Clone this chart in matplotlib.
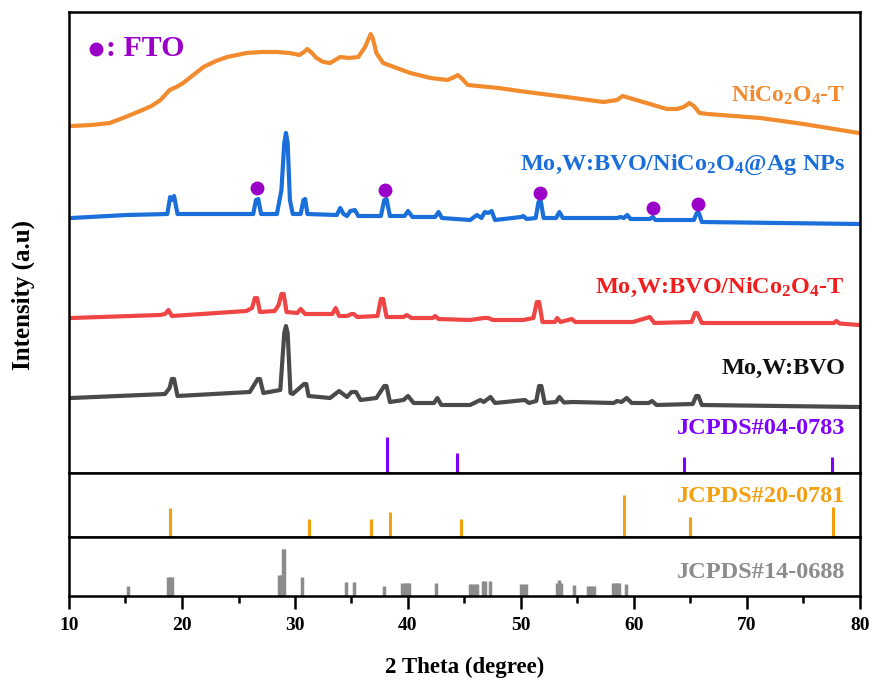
import numpy as np
import matplotlib
matplotlib.use('Agg')
import matplotlib.pyplot as plt

plt.rcParams['font.family'] = 'Liberation Serif'
plt.rcParams['font.weight'] = 'bold'

#--------------------------Data---------------------------------------------------

# NiCo2O4-T
x_nco = [10.2, 12.0, 13.6, 15.0, 16.5, 17.3, 18.1, 18.9, 19.5, 20.1, 21.9, 23.0, 24.0, 25.7, 27.0,
         28.4, 29.5, 30.4, 30.8, 31.1, 31.5, 31.9, 32.5, 33.1, 34.0, 34.8, 35.6, 36.2, 36.5, 36.7,
         36.9, 37.2, 37.8, 39.0, 40.2, 42.0, 43.5, 44.1, 44.4, 44.8, 45.3, 48.0, 50.5, 54.0, 57.3,
         58.5, 59.0, 59.6, 60.2, 61.1, 62.9, 63.8, 64.4, 64.9, 65.3, 65.8, 66.5, 71.2, 75.0, 79.9]
y_nco = [347, 348, 350, 356, 363, 367, 373, 383, 386, 390, 406, 412, 416, 420, 421,
         421, 420, 418, 421, 424, 420, 415, 411, 410, 416, 415, 416, 426, 434, 439,
         434, 420, 410, 405, 400, 395, 393, 396, 398, 394, 388, 385, 381, 376, 371,
         373, 377, 375, 373, 370, 364, 364, 366, 370, 367, 360, 359, 355, 349, 340]

# Mo,W:BVO/NiCo2O4@Ag NPs
x_ag = [10.2, 15.1, 18.7, 18.95, 19.1, 19.3, 19.6, 26.3, 26.55, 26.75, 27.0, 28.4, 28.8, 29.05, 29.2,
        29.35, 29.55, 29.8, 30.5, 30.75, 30.9, 31.1, 33.7, 34.0, 34.3, 34.6, 34.9, 35.3, 35.6, 37.6,
        37.9, 38.1, 38.4, 39.7, 40.0, 40.4, 42.4, 42.7, 43.0, 45.5, 46.1, 46.5, 46.8, 47.1, 47.4,
        47.7, 50.0, 50.2, 50.5, 51.3, 51.55, 51.75, 52.0, 53.1, 53.4, 53.7, 54.6, 58.5, 58.8, 59.1,
        59.4, 59.7, 61.4, 61.65, 61.9, 65.3, 65.55, 65.75, 66.0, 79.9]
y_ag = [255, 258, 259, 276, 273, 277, 259, 259, 273, 274, 259, 259, 283, 330, 340,
        330, 273, 259, 259, 273, 274, 259, 258, 265, 259, 257, 262, 263, 257, 257,
        273, 274, 257, 257, 262, 256, 256, 261, 255, 253, 258, 255, 261, 260, 262,
        253, 256, 257, 254, 255, 271, 272, 255, 255, 261, 255, 255, 255, 256, 255,
        258, 254, 254, 256, 253, 253, 260, 260, 251, 249]

# Mo,W:BVO/NiCo2O4-T
x_t = [10.2, 18.05, 18.5, 18.8, 19.1, 25.7, 26.2, 26.45, 26.65, 26.9, 28.2, 28.55, 28.8, 29.0, 29.25,
       30.2, 30.5, 30.9, 31.2, 33.3, 33.6, 33.9, 34.6, 35.0, 35.2, 35.5, 37.3, 37.6, 37.8, 38.1,
       39.6, 39.9, 40.3, 42.2, 42.4, 42.7, 45.5, 46.7, 47.1, 47.5, 50.2, 51.1, 51.4, 51.6, 51.9,
       53.0, 53.2, 53.5, 54.5, 54.8, 59.9, 61.4, 61.8, 65.1, 65.4, 65.6, 66.0, 77.7, 77.9, 78.2, 79.9]
y_t = [155, 158, 159, 163, 157, 162, 165, 175, 175, 161, 162, 168, 179, 179, 161,
       160, 164, 159, 159, 159, 165, 157, 157, 159, 159, 156, 157, 174, 174, 156,
       156, 158, 155, 155, 157, 154, 153, 155, 155, 153, 153, 155, 171, 171, 151,
       151, 155, 151, 154, 151, 151, 156, 150, 151, 160, 160, 150, 150, 152, 149.5, 148]

# Mo,W:BVO
x_bvo = [10.2, 18.5, 18.9, 19.1, 19.3, 19.6, 26.0, 26.7, 26.9, 27.2, 28.7, 29.05, 29.2, 29.35, 29.6,
         29.8, 30.8, 31.0, 31.2, 33.1, 33.9, 34.6, 35.0, 35.4, 35.8, 37.2, 37.9, 38.1, 38.4, 39.6,
         40.0, 40.5, 42.3, 42.6, 42.95, 45.5, 46.4, 46.7, 47.3, 47.7, 50.35, 50.7, 51.35, 51.6, 51.8,
         52.1, 53.1, 53.4, 53.8, 54.6, 58.2, 58.5, 58.9, 59.35, 59.8, 61.3, 61.6, 62.0, 65.2, 65.5,
         65.7, 66.0, 79.9]
y_bvo = [75, 79, 85, 94, 94, 77, 81, 94, 94, 80, 83, 140, 147, 140, 80,
         79, 89, 89, 77, 75, 82, 76, 81, 81, 73, 75, 87, 87, 71, 73,
         77, 70, 70, 75, 68, 68, 73, 71, 76, 70, 73, 70, 72, 87, 87,
         70, 71, 76, 70.5, 71, 70, 72, 71, 75, 70, 70, 72, 68, 69, 77,
         77, 68, 66]

# FTO markers
fto_x = [26.66, 38.0, 51.7, 61.7, 65.7]
fto_y = [285, 283, 280, 265, 269]

# reference patterns
ag_pos = [38.1, 44.3, 64.4, 77.5]
ag_h = [36, 20.5, 16, 16.5]

nco_pos = [18.9, 31.2, 36.7, 38.4, 44.7, 59.1, 65.0, 77.6]
nco_h = [29, 18.4, 17.7, 25, 18.4, 42.4, 20, 30]

bvo_pos = [15.2, 18.75, 18.95, 19.15, 28.6, 28.75, 28.9, 29.0, 30.6, 34.5, 35.2, 37.9,
           39.5, 39.7, 39.9, 40.1, 42.5, 45.5, 45.7, 45.9, 46.1, 46.6, 46.8, 47.3,
           50.0, 50.2, 50.4, 53.2, 53.35, 53.5, 54.7, 55.9, 56.1, 56.3, 56.5,
           58.1, 58.3, 58.5, 58.7, 59.3]
bvo_h = [10, 19, 19, 19, 21, 21, 47, 47, 19, 14, 14, 10,
         13, 13, 13, 13, 13, 12, 12, 12, 12, 15, 15, 15,
         12, 12, 12, 13, 16, 13, 11, 10, 10, 10, 10,
         13, 13, 13, 13, 12]

c_orange = '#F28A2E'
c_blue = '#1B6FDB'
c_red = '#EF4545'
c_black = '#4A4A4A'
c_fto = '#9B00C8'
c_ag = '#8000FF'
c_nco = '#F2A010'
c_bvo = '#8C8C8C'

#--------------------------Figure---------------------------------------------------

W, H = 874, 693
fig = plt.figure(figsize=(W / 100, H / 100), dpi=100)

def px_axes(x0, y0, x1, y1):
    return fig.add_axes([x0 / W, 1 - y1 / H, (x1 - x0) / W, (y1 - y0) / H])

ax1 = px_axes(69, 12, 860, 473)
ax2 = px_axes(69, 473, 860, 537)
ax3 = px_axes(69, 537, 860, 596)

for ax in (ax1, ax2, ax3):
    ax.set_xlim(10, 80)
    ax.set_yticks([])
    for s in ax.spines.values():
        s.set_linewidth(1.8)
ax1.set_xticks([])
ax2.set_xticks([])
ax1.set_ylim(0, 461)
ax2.set_ylim(0, 64)
ax3.set_ylim(0, 59)

lw = 3
ax1.plot(x_nco, y_nco, color=c_orange, lw=lw, solid_joinstyle='round')
ax1.plot(x_ag, y_ag, color=c_blue, lw=lw, solid_joinstyle='round')
ax1.plot(x_t, y_t, color=c_red, lw=lw, solid_joinstyle='round')
ax1.plot(x_bvo, y_bvo, color=c_black, lw=lw, solid_joinstyle='round')

ax1.plot(fto_x, fto_y, 'o', color=c_fto, ms=10, mec='none')
ax1.plot([12.4], [424], 'o', color=c_fto, ms=10, mec='none')
ax1.text(13.3, 424, ': FTO', color=c_fto, fontsize=21.5, va='center', ha='left')

ax1.vlines(ag_pos, 0, ag_h, color=c_ag, lw=2.2)
ax2.vlines(nco_pos, 0, nco_h, color=c_nco, lw=2.2)
ax3.vlines(bvo_pos, 0, bvo_h, color=c_bvo, lw=2.5)

xr = 78.7
fs = 17.5
ax1.text(xr, 378, r'NiCo$\mathregular{_2}$O$\mathregular{_4}$-T', color=c_orange, fontsize=17, ha='right', va='center')
ax1.text(xr, 308, r'Mo,W:BVO/NiCo$\mathregular{_2}$O$\mathregular{_4}$@Ag NPs', color=c_blue, fontsize=fs, ha='right', va='center')
ax1.text(xr, 186, r'Mo,W:BVO/NiCo$\mathregular{_2}$O$\mathregular{_4}$-T', color='#F01E1E', fontsize=fs, ha='right', va='center')
ax1.text(xr, 105, 'Mo,W:BVO', color='#111111', fontsize=fs, ha='right', va='center')
ax1.text(xr, 45, 'JCPDS#04-0783', color=c_ag, fontsize=fs, ha='right', va='center')
ax2.text(xr, 40, 'JCPDS#20-0781', color=c_nco, fontsize=fs, ha='right', va='center')
ax3.text(xr, 24, 'JCPDS#14-0688', color=c_bvo, fontsize=fs, ha='right', va='center')

ax3.set_xticks(np.arange(10, 81, 10))
ax3.set_xticks(np.arange(15, 80, 10), minor=True)
ax3.tick_params(axis='x', which='major', direction='out', length=9, width=1.8, labelsize=14, pad=6)
ax3.tick_params(axis='x', which='minor', direction='out', length=5, width=1.8)
for lab in ax3.get_xticklabels():
    lab.set_fontweight('bold')

fig.text(464.5 / W, 1 - 667 / H, '2 Theta (degree)', fontsize=16.5, ha='center', va='center')
fig.text(23 / W, 1 - 295 / H, 'Intensity (a.u)', fontsize=18, ha='center', va='center', rotation=90)

fig.savefig('out.png', dpi=100)
